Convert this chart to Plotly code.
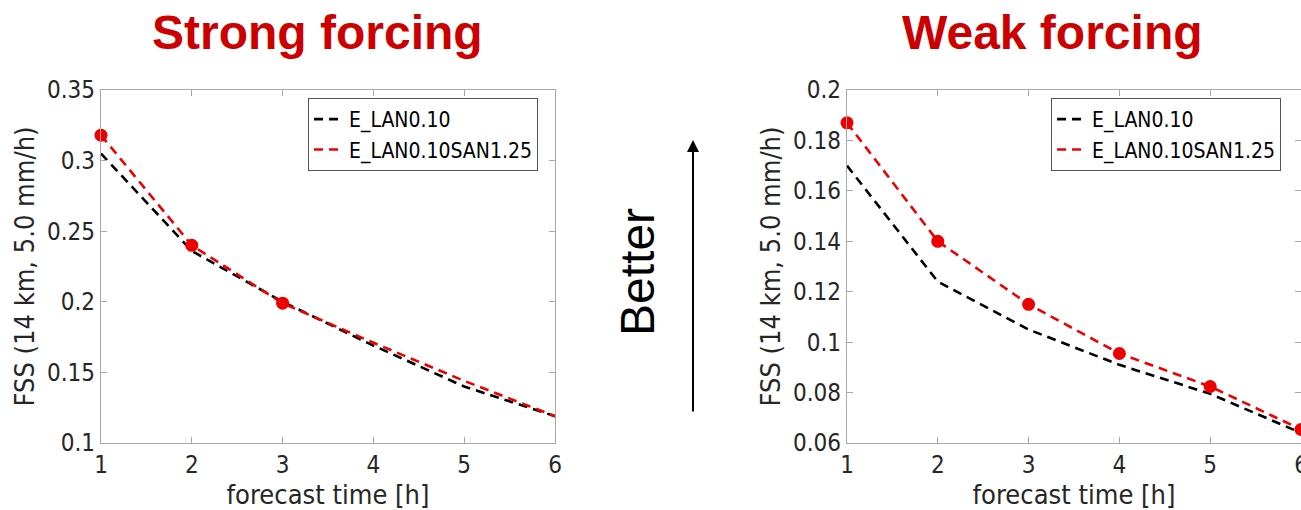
import plotly.graph_objects as go

W, H = 1301, 510

# ---------------- data ----------------
lead_time = [1, 2, 3, 4, 5, 6]

strong_lan = [0.305, 0.236, 0.200, 0.169, 0.140, 0.119]
strong_lan_san = [0.318, 0.240, 0.199, 0.171, 0.144, 0.119]
strong_marker_x = [1, 2, 3]
strong_marker_y = [0.318, 0.240, 0.199]

weak_lan = [0.170, 0.124, 0.105, 0.091, 0.0795, 0.064]
weak_lan_san = [0.187, 0.140, 0.115, 0.0955, 0.0824, 0.0654]
weak_marker_x = [1, 2, 3, 4, 5, 6]
weak_marker_y = [0.187, 0.140, 0.115, 0.0955, 0.0824, 0.0654]

series_names = ["E_LAN0.10", "E_LAN0.10SAN1.25"]
x_ticks = [1, 2, 3, 4, 5, 6]
strong_yticks = [0.1, 0.15, 0.2, 0.25, 0.3, 0.35]
strong_yticklabels = ["0.1", "0.15", "0.2", "0.25", "0.3", "0.35"]
weak_yticks = [0.06, 0.08, 0.1, 0.12, 0.14, 0.16, 0.18, 0.2]
weak_yticklabels = ["0.06", "0.08", "0.1", "0.12", "0.14", "0.16", "0.18", "0.2"]

titles = ["Strong forcing", "Weak forcing"]
x_label = "forecast time [h]"
y_label = "FSS (14 km, 5.0 mm/h)"
arrow_text = "Better"

# ---------------- style ----------------
BLACK = "#000000"
RED = "#ee0000"
TITLE_RED = "#cc0000"
TXT = "#262626"
AXC = "#a8a8a8"
FAM = "DejaVu Sans Condensed, DejaVu Sans"
TICKFONT = dict(family=FAM, size=24, color=TXT)
DASH = "9px,6px"


def px_x(p):
    return p / W


def px_y(p):
    return 1 - p / H


fig = go.Figure()

panels = [
    dict(xa="x", ya="y", legend="legend", lan=strong_lan, san=strong_lan_san,
         mx=strong_marker_x, my=strong_marker_y),
    dict(xa="x2", ya="y2", legend="legend2", lan=weak_lan, san=weak_lan_san,
         mx=weak_marker_x, my=weak_marker_y),
]

for p in panels:
    fig.add_trace(go.Scatter(x=lead_time, y=p["lan"], mode="lines", name=series_names[0],
                             line=dict(color=BLACK, width=2.6, dash=DASH),
                             xaxis=p["xa"], yaxis=p["ya"], legend=p["legend"]))
    fig.add_trace(go.Scatter(x=lead_time, y=p["san"], mode="lines", name=series_names[1],
                             line=dict(color=RED, width=2.6, dash=DASH),
                             xaxis=p["xa"], yaxis=p["ya"], legend=p["legend"]))
    fig.add_trace(go.Scatter(x=p["mx"], y=p["my"], mode="markers", showlegend=False,
                             marker=dict(color=RED, size=13),
                             xaxis=p["xa"], yaxis=p["ya"], cliponaxis=False))

axis_common = dict(showline=True, linecolor=AXC, linewidth=1.3, mirror="ticks",
                   ticks="inside", ticklen=6, tickcolor=AXC, showgrid=False,
                   zeroline=False, tickfont=TICKFONT,
                   title_font=dict(family=FAM, size=27, color=TXT))

ydom = [px_y(443), px_y(90)]
legend_font = dict(family=FAM, size=21, color=BLACK)

fig.update_layout(
    width=W, height=H,
    margin=dict(l=0, r=0, t=0, b=0, autoexpand=False),
    paper_bgcolor="white", plot_bgcolor="white",
    xaxis=dict(domain=[px_x(101), px_x(555)], range=[1, 6], tickvals=x_ticks,
               title=dict(text=x_label, standoff=2), anchor="y", **axis_common),
    yaxis=dict(domain=ydom, range=[0.1, 0.35], tickvals=strong_yticks,
               ticktext=strong_yticklabels, title=dict(text=y_label, standoff=4),
               anchor="x", **axis_common),
    xaxis2=dict(domain=[px_x(847), 1.0], range=[1, 6], tickvals=x_ticks,
                ticklabeloverflow="allow",
                title=dict(text=x_label, standoff=2), anchor="y2", **axis_common),
    yaxis2=dict(domain=ydom, range=[0.06, 0.2], tickvals=weak_yticks,
                ticktext=weak_yticklabels, title=dict(text=y_label, standoff=4),
                anchor="x2", **axis_common),
    legend=dict(x=px_x(308), y=px_y(98), xanchor="left", yanchor="top",
                bgcolor="white", bordercolor="#555555", borderwidth=1,
                font=legend_font, itemwidth=30, tracegroupgap=0),
    legend2=dict(x=px_x(1051), y=px_y(98), xanchor="left", yanchor="top",
                 bgcolor="white", bordercolor="#555555", borderwidth=1,
                 font=legend_font, itemwidth=30, tracegroupgap=0),
    showlegend=True,
)

title_font = dict(family="Liberation Sans, Arial", size=48, color=TITLE_RED)
fig.add_annotation(text="<b>" + titles[0] + "</b>", xref="paper", yref="paper",
                   x=px_x(317), y=px_y(32), xanchor="center", yanchor="middle",
                   showarrow=False, font=title_font)
fig.add_annotation(text="<b>" + titles[1] + "</b>", xref="paper", yref="paper",
                   x=px_x(1052), y=px_y(32), xanchor="center", yanchor="middle",
                   showarrow=False, font=title_font)

fig.add_annotation(text=arrow_text, xref="paper", yref="paper",
                   x=px_x(637), y=px_y(272), xanchor="center", yanchor="middle",
                   textangle=-90, showarrow=False,
                   font=dict(family="Liberation Sans, Arial", size=48, color=BLACK))

fig.add_annotation(text="", xref="paper", yref="paper",
                   x=px_x(693), y=px_y(140), ax=0, ay=273,
                   showarrow=True, arrowhead=2, arrowsize=1.2, arrowwidth=2,
                   arrowcolor=BLACK)

fig.write_html("out.html")
